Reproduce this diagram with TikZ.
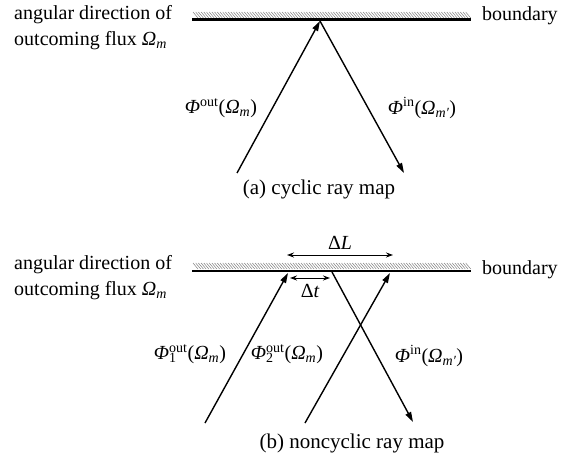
\documentclass[tikz,border=0pt]{standalone}
\usepackage{fontspec}
\setmainfont{Liberation Serif}
\usetikzlibrary{arrows.meta}
\newcommand{\myit}[1]{{\itshape #1}}
\begin{document}
\begin{tikzpicture}[x=1pt,y=-1pt,
  lbl/.style={font=\fontsize{20}{26}\selectfont, inner sep=0pt},
  captext/.style={font=\fontsize{21}{26}\selectfont, inner sep=0pt},
  ray/.style={line width=1.4pt, -{Triangle[length=10pt,width=6pt]}},
  wall/.style={line width=2.4pt},
  hatch/.style={gray, line width=0.5pt},
  dim/.style={line width=1pt, {Stealth[length=7pt,width=5pt]}-{Stealth[length=7pt,width=5pt]}}]
\useasboundingbox[fill=white] (0,0) rectangle (563,460);

% ---------- panel (a) ----------
\foreach \x in {193,195.7,...,466} \draw[hatch] (\x,12) -- (\x+5,18);
\coordinate (aL) at (192,19.5);
\coordinate (aR) at (471,19.5);
\draw[wall] (aL) -- (aR);
\node[lbl, anchor=west, align=left] (adir) at (14,28) {angular direction of\\outcoming flux \myit{Ω}\textsubscript{\myit{m}}};
\node[lbl, anchor=west] (abnd) at (482,16) {boundary};
\coordinate (aS) at (237,173);
\coordinate (aP) at (320,21);
\coordinate (aE) at (404,173);
\draw[ray] (aS) -- (aP);
\draw[ray] (aP) -- (aE);
\node[lbl] (aout) at (221,108) {\myit{Φ}\textsuperscript{out}(\myit{Ω}\textsubscript{\myit{m}})};
\node[lbl] (ain) at (422,108) {\myit{Φ}\textsuperscript{in}(\myit{Ω}\textsubscript{\myit{m′}})};
\node[captext] (acap) at (319,189) {(a) cyclic ray map};

% ---------- panel (b) ----------
\foreach \x in {193,195.7,...,466} \draw[hatch] (\x,263) -- (\x+5,269);
\coordinate (bL) at (192,271);
\coordinate (bR) at (471,271);
\draw[wall] (bL) -- (bR);
\node[lbl, anchor=west, align=left] (bdir) at (14,278) {angular direction of\\outcoming flux \myit{Ω}\textsubscript{\myit{m}}};
\node[lbl, anchor=west] (bbnd) at (482,270) {boundary};
\coordinate (b1S) at (205,423);
\coordinate (b1P) at (288,273);
\coordinate (b2S) at (305,423);
\coordinate (b2P) at (390,273);
\coordinate (b3S) at (332,272);
\coordinate (b3E) at (413,422);
\draw[ray] (b1S) -- (b1P);
\draw[ray] (b2S) -- (b2P);
\draw[ray] (b3S) -- (b3E);
\coordinate (dtL) at (290,278);
\coordinate (dtR) at (330,278);
\draw[dim] (dtL) -- (dtR);
\node[lbl] (dt) at (310,291) {Δ\myit{t}};
\coordinate (dLL) at (287,255);
\coordinate (dLR) at (393,255);
\draw[dim] (dLL) -- (dLR);
\node[lbl] (dL) at (340,243) {Δ\myit{L}};
\node[lbl] (bout1) at (190,354) {\myit{Φ}\rlap{\textsubscript{1}}\textsuperscript{out}(\myit{Ω}\textsubscript{\myit{m}})};
\node[lbl] (bout2) at (287,354) {\myit{Φ}\rlap{\textsubscript{2}}\textsuperscript{out}(\myit{Ω}\textsubscript{\myit{m}})};
\node[lbl] (bin) at (429,356) {\myit{Φ}\textsuperscript{in}(\myit{Ω}\textsubscript{\myit{m′}})};
\node[captext] (bcap) at (352,443) {(b) noncyclic ray map};
\end{tikzpicture}
\end{document}
